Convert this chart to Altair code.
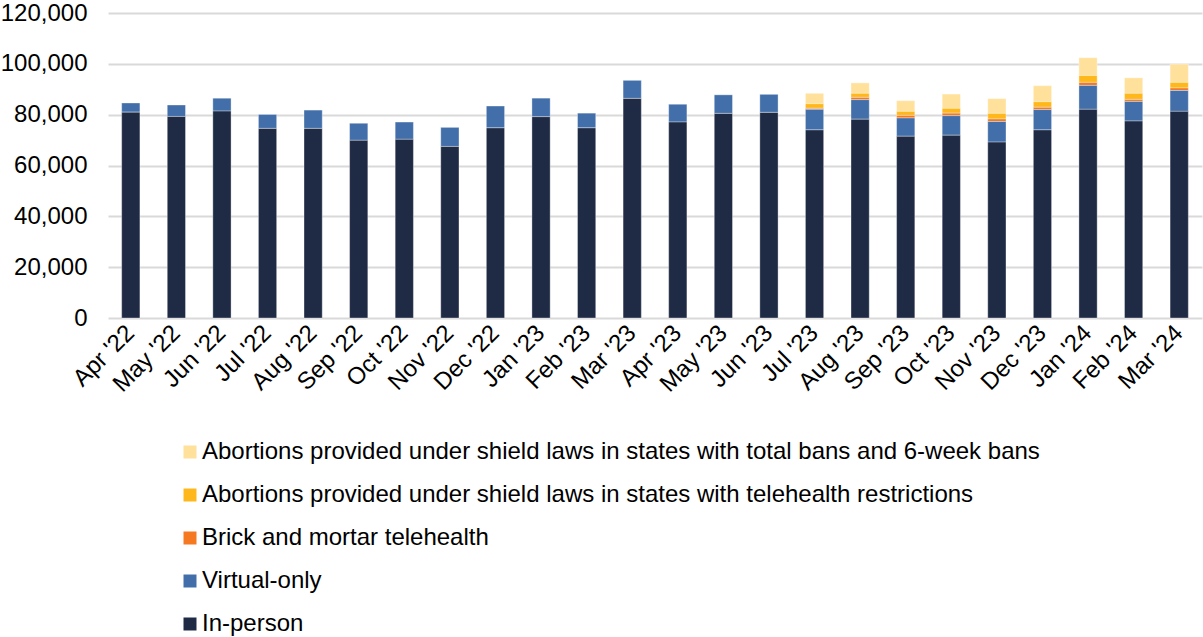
import altair as alt
import pandas as pd

months = ["Apr '22", "May '22", "Jun '22", "Jul '22", "Aug '22", "Sep '22", "Oct '22",
          "Nov '22", "Dec '22", "Jan '23", "Feb '23", "Mar '23", "Apr '23", "May '23",
          "Jun '23", "Jul '23", "Aug '23", "Sep '23", "Oct '23", "Nov '23", "Dec '23",
          "Jan '24", "Feb '24", "Mar '24"]

in_person = [81000, 79300, 81400, 74600, 74600, 69900, 70300, 67500, 74800, 79200, 74800, 86400,
             77100, 80500, 80900, 74000, 78200, 71500, 71900, 69200, 74000, 82100, 77500, 81300]
virtual_only = [3600, 4500, 5100, 5500, 7200, 6700, 6800, 7500, 8600, 7300, 5800, 7100,
                7000, 7300, 7100, 8100, 7700, 7200, 7700, 8100, 8000, 9400, 7700, 8200]
brick_mortar = [0, 0, 0, 0, 0, 0, 0, 0, 0, 0, 0, 0,
                0, 0, 0, 400, 900, 1000, 1000, 1000, 900, 1200, 800, 1000]
shield_telehealth = [0, 0, 0, 0, 0, 0, 0, 0, 0, 0, 0, 0,
                     0, 0, 0, 1800, 1600, 1600, 1900, 2200, 2200, 2700, 2400, 2200]
shield_bans = [0, 0, 0, 0, 0, 0, 0, 0, 0, 0, 0, 0,
               0, 0, 0, 4100, 4100, 4200, 5600, 5800, 6300, 7000, 6100, 7200]

series_names = [
    "Abortions provided under shield laws in states with total bans and 6-week bans",
    "Abortions provided under shield laws in states with telehealth restrictions",
    "Brick and mortar telehealth",
    "Virtual-only",
    "In-person",
]
series_colors = ["#ffe19b", "#ffb81c", "#f47920", "#426ea9", "#1f2a44"]
series_values = [shield_bans, shield_telehealth, brick_mortar, virtual_only, in_person]

rows = []
for k, (name, vals) in enumerate(zip(series_names, series_values)):
    for m, v in zip(months, vals):
        rows.append({"month": m, "series": name, "value": v, "stack_order": len(series_names) - k})
df = pd.DataFrame(rows)

FONT = "Liberation Sans"

chart = alt.Chart(df).mark_bar(
    stroke="white", strokeOpacity=0.35, strokeWidth=1
).encode(
    x=alt.X("month:N", sort=months, title=None,
            scale=alt.Scale(paddingInner=0.6, paddingOuter=0.3),
            axis=alt.Axis(labelAngle=-45, labelFontSize=24, labelFont=FONT, labelColor="#000000",
                          ticks=False, domain=False, labelPadding=11, labelAlign="right",
                          labelBaseline="middle")),
    y=alt.Y("value:Q", stack="zero", title=None,
            scale=alt.Scale(domain=[0, 120000], nice=False),
            axis=alt.Axis(values=[0, 20000, 40000, 60000, 80000, 100000, 120000], format=",.0f",
                          labelFontSize=24, labelFont=FONT, labelColor="#000000",
                          ticks=False, domain=False, labelPadding=21,
                          gridColor="#d9d9d9", gridWidth=2)),
    color=alt.Color("series:N", title=None,
                    scale=alt.Scale(domain=series_names, range=series_colors),
                    legend=alt.Legend(orient="none", legendX=70, legendY=427, direction="vertical",
                                      symbolType="square", symbolSize=169, symbolStrokeWidth=0,
                                      labelFontSize=24, labelFont=FONT, labelColor="#000000",
                                      labelLimit=1000, rowPadding=19, labelOffset=0)),
    order=alt.Order("stack_order:Q", sort="ascending"),
).properties(
    width=1094, height=305,
    autosize=alt.AutoSizeParams(type="none"),
    padding={"left": 108, "top": 13, "right": 1, "bottom": 319},
).configure_view(stroke=None)

chart.save("out.html", embed_options={"renderer": "svg", "actions": False})
